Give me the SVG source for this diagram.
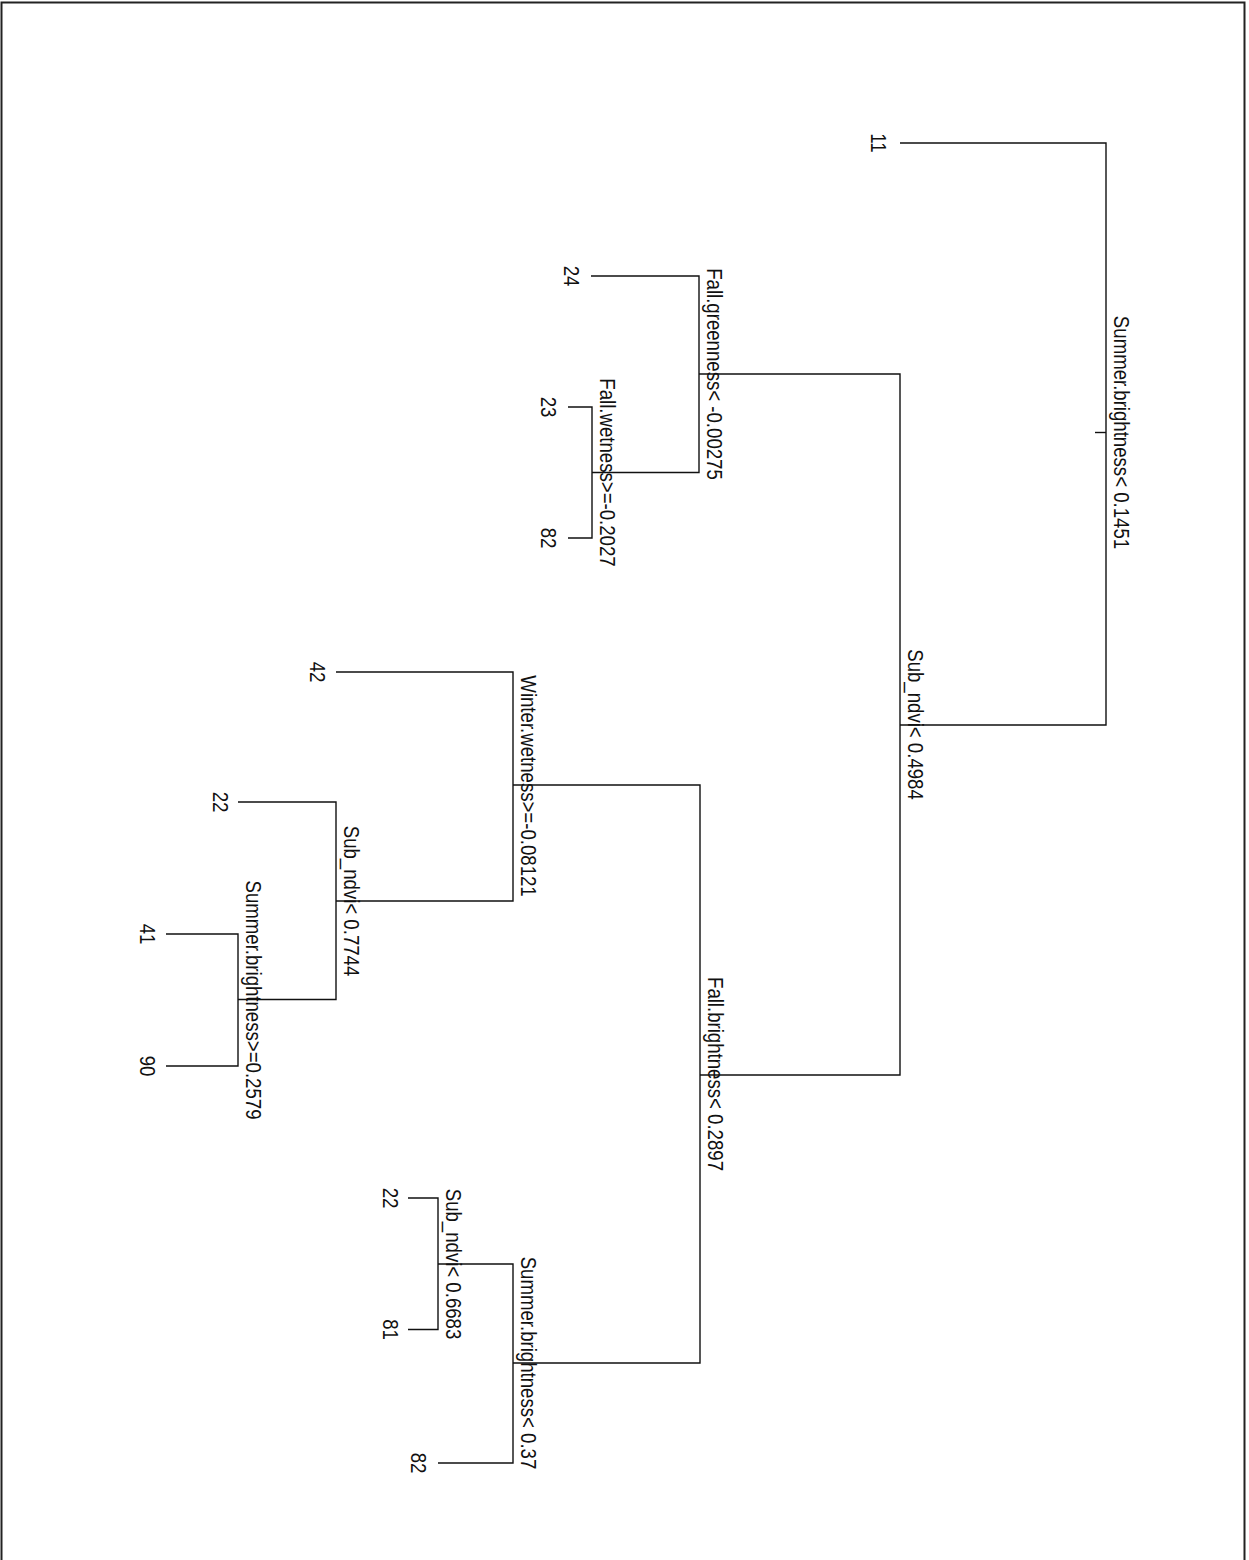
<svg xmlns="http://www.w3.org/2000/svg" width="1249" height="1560" viewBox="0 0 1249 1560">
<style>
.t{font-family:"Liberation Sans",Arial,sans-serif;font-size:23px;fill:#111;text-anchor:middle}
.c{fill:none;stroke:#111;stroke-width:1.4}
.f{fill:none;stroke:#222;stroke-width:2}
</style>
<rect width="1249" height="1560" fill="#fff"/>
<path class="f" d="M1.5,1562 V2.5 H1244.5 V1562"/>
<g id="connectors">
<path class="c" d="M1095,432.5 H1106"/>
<path class="c" d="M900,143 H1106 V725 H900"/>
<path class="c" d="M699,374 H900 V1075 H700"/>
<path class="c" d="M591,276 H699 V472.5 H592"/>
<path class="c" d="M568,407 H592 V538 H568"/>
<path class="c" d="M513,785 H700 V1363 H513"/>
<path class="c" d="M336,672 H513 V901 H336"/>
<path class="c" d="M238,802 H336 V999.5 H238"/>
<path class="c" d="M166,934 H238 V1066 H166"/>
<path class="c" d="M438,1264 H513 V1463 H438"/>
<path class="c" d="M408,1198 H438 V1329.5 H408"/>
</g>
<g id="n1"><text class="t" transform="translate(1114,432.5) rotate(90) scale(0.81,1)">Summer.brightness&lt; 0.1451</text></g>
<g id="leaf11"><text class="t" transform="translate(871,143) rotate(90) scale(0.81,1)">11</text></g>
<g id="n3"><text class="t" transform="translate(908,724.5) rotate(90) scale(0.81,1)">Sub_ndvi&lt; 0.4984</text></g>
<g id="n6"><text class="t" transform="translate(707,374) rotate(90) scale(0.81,1)">Fall.greenness&lt; -0.00275</text></g>
<g id="leaf24"><text class="t" transform="translate(564,276) rotate(90) scale(0.81,1)">24</text></g>
<g id="n13"><text class="t" transform="translate(600,472.5) rotate(90) scale(0.81,1)">Fall.wetness&gt;=-0.2027</text></g>
<g id="leaf23"><text class="t" transform="translate(541,407) rotate(90) scale(0.81,1)">23</text></g>
<g id="leaf82a"><text class="t" transform="translate(541,538) rotate(90) scale(0.81,1)">82</text></g>
<g id="n7"><text class="t" transform="translate(708,1074) rotate(90) scale(0.81,1)">Fall.brightness&lt; 0.2897</text></g>
<g id="n14"><text class="t" transform="translate(521,786) rotate(90) scale(0.81,1)">Winter.wetness&gt;=-0.08121</text></g>
<g id="leaf42"><text class="t" transform="translate(310,672) rotate(90) scale(0.81,1)">42</text></g>
<g id="n29"><text class="t" transform="translate(344,901) rotate(90) scale(0.81,1)">Sub_ndvi&lt; 0.7744</text></g>
<g id="leaf22a"><text class="t" transform="translate(213,802) rotate(90) scale(0.81,1)">22</text></g>
<g id="n59"><text class="t" transform="translate(246,1000) rotate(90) scale(0.81,1)">Summer.brightness&gt;=0.2579</text></g>
<g id="leaf41"><text class="t" transform="translate(140,934) rotate(90) scale(0.81,1)">41</text></g>
<g id="leaf90"><text class="t" transform="translate(140,1066) rotate(90) scale(0.81,1)">90</text></g>
<g id="n15"><text class="t" transform="translate(521,1363) rotate(90) scale(0.81,1)">Summer.brightness&lt; 0.37</text></g>
<g id="n30"><text class="t" transform="translate(446,1264) rotate(90) scale(0.81,1)">Sub_ndvi&lt; 0.6683</text></g>
<g id="leaf22b"><text class="t" transform="translate(383,1198) rotate(90) scale(0.81,1)">22</text></g>
<g id="leaf81"><text class="t" transform="translate(383,1329.5) rotate(90) scale(0.81,1)">81</text></g>
<g id="leaf82b"><text class="t" transform="translate(411,1463) rotate(90) scale(0.81,1)">82</text></g>
</svg>
